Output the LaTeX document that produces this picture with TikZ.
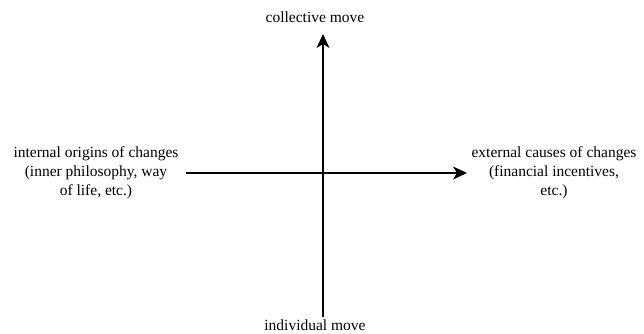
\documentclass[tikz,border=0pt]{standalone}
\usepackage{fontspec}
\setmainfont{Liberation Serif}
\usetikzlibrary{arrows.meta}
\begin{document}
\begin{tikzpicture}[x=1pt,y=-1pt,
  lbl/.style={font=\fontsize{15.5}{19}\selectfont, align=center, inner sep=0pt},
  axis/.style={line width=1.6pt, -{Stealth[length=14pt,width=13pt,inset=4pt]}}]
\useasboundingbox (0,0) rectangle (644,333);
\node[lbl] (top) at (315,17) {collective move};
\node[lbl] (bot) at (315,325) {individual move};
\node[lbl] (left) at (96,173) {internal origins of changes\\(inner philosophy, way\\of life, etc.)};
\node[lbl] (right) at (554,173) {external causes of changes\\(financial incentives,\\etc.)};
\coordinate (vs) at (323,317);
\coordinate (ve) at (323,34);
\coordinate (hs) at (186,173);
\coordinate (he) at (467,173);
\draw[axis] (vs) -- (ve);
\draw[axis] (hs) -- (he);
\end{tikzpicture}
\end{document}
